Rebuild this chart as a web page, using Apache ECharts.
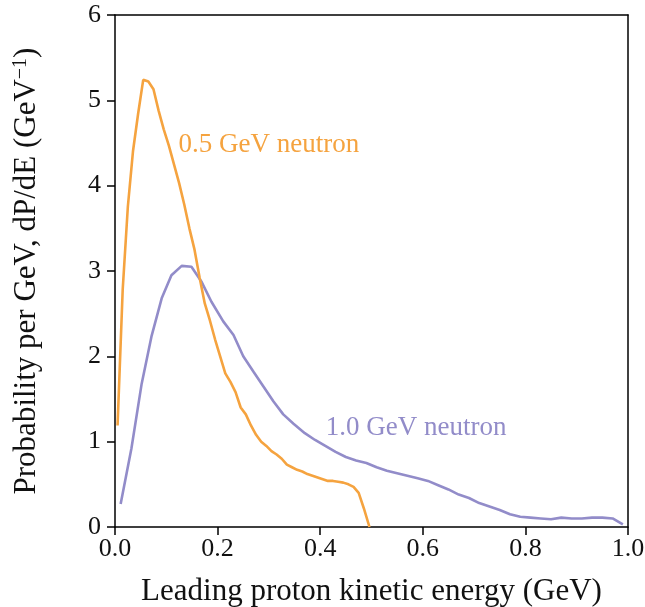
<!DOCTYPE html>
<html>
<head>
<meta charset="utf-8">
<script src="https://cdn.jsdelivr.net/npm/echarts@6/dist/echarts.min.js"></script>
<style>html,body{margin:0;padding:0;background:#fff}#c{width:645px;height:607px}</style>
</head>
<body>
<div id="c"></div>
<script>
const xTicks = [0, 0.2, 0.4, 0.6, 0.8, 1.0];
const yTicks = [0, 1, 2, 3, 4, 5, 6];

const energy05 = [0.005,0.015,0.025,0.035,0.045,0.055,0.065,0.075,0.085,0.095,0.105,0.115,0.125,0.135,0.145,0.155,0.165,0.175,0.185,0.195,0.205,0.215,0.225,0.235,0.245,0.255,0.265,0.275,0.285,0.295,0.305,0.315,0.325,0.335,0.345,0.355,0.365,0.375,0.385,0.395,0.405,0.415,0.425,0.435,0.445,0.455,0.465,0.475,0.485,0.496];
const prob05 = [1.19,2.78,3.75,4.40,4.84,5.24,5.22,5.13,4.88,4.66,4.47,4.25,4.03,3.78,3.50,3.25,2.92,2.62,2.42,2.20,2.00,1.80,1.70,1.58,1.40,1.32,1.19,1.08,1.00,0.95,0.89,0.85,0.80,0.73,0.70,0.67,0.65,0.62,0.60,0.58,0.56,0.54,0.54,0.53,0.52,0.50,0.47,0.40,0.22,0.0];

const energy10 = [0.011,0.032,0.052,0.071,0.091,0.110,0.130,0.149,0.169,0.188,0.211,0.231,0.250,0.270,0.289,0.309,0.328,0.348,0.370,0.390,0.410,0.430,0.450,0.470,0.490,0.510,0.530,0.550,0.570,0.590,0.610,0.630,0.650,0.670,0.690,0.710,0.730,0.750,0.770,0.790,0.810,0.830,0.850,0.870,0.890,0.910,0.930,0.950,0.970,0.990];
const prob10 = [0.27,0.92,1.68,2.23,2.68,2.95,3.06,3.05,2.87,2.64,2.41,2.25,2.00,1.82,1.65,1.47,1.32,1.21,1.10,1.02,0.95,0.88,0.82,0.78,0.75,0.70,0.66,0.63,0.60,0.57,0.54,0.49,0.44,0.38,0.34,0.28,0.24,0.20,0.15,0.12,0.11,0.10,0.09,0.11,0.10,0.10,0.11,0.11,0.10,0.03];

const seriesNames = ['0.5 GeV neutron', '1.0 GeV neutron'];
const labelPos = [[0.124, 4.48], [0.411, 1.16]];

const orange = '#f5a33f';
const purple = '#928cc9';
const FONT = 'Liberation Serif';

const chart = echarts.init(document.getElementById('c'), null, {renderer: 'canvas'});
const pairs = (xs, ys) => xs.map((x, i) => [x, ys[i]]);

function mp(pos, name, color) {
  return {
    silent: true,
    symbol: 'circle', symbolSize: 0,
    data: [{coord: pos, value: name}],
    label: {show: true, position: 'right', distance: 0, formatter: name,
      color: color, fontFamily: FONT, fontSize: 27}
  };
}

chart.setOption({
  animation: false,
  backgroundColor: '#fff',
  grid: {left: 115, right: 17, top: 15, bottom: 80, containLabel: false, outerBoundsMode: 'none'},
  xAxis: [{
    type: 'value', min: 0, max: 1, interval: 0.2,
    name: 'Leading proton kinetic energy (GeV)', nameLocation: 'middle', nameGap: 49,
    nameTextStyle: {fontFamily: FONT, fontSize: 31, color: '#111'},
    axisLine: {show: true, lineStyle: {color: '#000', width: 1.5}},
    axisTick: {show: true, length: 8, inside: false, lineStyle: {color: '#000', width: 1.5}},
    axisLabel: {fontFamily: FONT, fontSize: 26, color: '#111', margin: 9,
      formatter: v => xTicks.includes(+v.toFixed(1)) ? v.toFixed(1) : ''},
    splitLine: {show: false}
  }, {
    type: 'value', min: 0, max: 1, position: 'top',
    axisLine: {show: true, onZero: false, lineStyle: {color: '#000', width: 1.5}},
    axisTick: {show: false}, axisLabel: {show: false}, splitLine: {show: false}
  }],
  yAxis: [{
    type: 'value', min: 0, max: 6, interval: 1,
    name: '{a|Probability per GeV, dP/dE (GeV}{s|−1}{a|)}', nameLocation: 'middle', nameGap: 72,
    nameTextStyle: {fontFamily: FONT, fontSize: 31, color: '#111',
      rich: {a: {fontFamily: FONT, fontSize: 31, color: '#111'},
             s: {fontFamily: FONT, fontSize: 20, color: '#111', verticalAlign: 'top', padding: [0, 0, 12, 0]}}},
    axisLine: {show: true, lineStyle: {color: '#000', width: 1.5}},
    axisTick: {show: true, length: 8, lineStyle: {color: '#000', width: 1.5}},
    axisLabel: {fontFamily: FONT, fontSize: 26, color: '#111', margin: 14,
      formatter: v => yTicks.includes(v) ? String(v) : ''},
    splitLine: {show: false}
  }, {
    type: 'value', min: 0, max: 6, position: 'right',
    axisLine: {show: true, onZero: false, lineStyle: {color: '#000', width: 1.5}},
    axisTick: {show: false}, axisLabel: {show: false}, splitLine: {show: false}
  }],
  series: [{
    name: seriesNames[0], type: 'line', data: pairs(energy05, prob05),
    showSymbol: false, lineStyle: {color: orange, width: 2.6}, itemStyle: {color: orange},
    z: 3, markPoint: mp(labelPos[0], seriesNames[0], orange)
  }, {
    name: seriesNames[1], type: 'line', data: pairs(energy10, prob10),
    showSymbol: false, lineStyle: {color: purple, width: 2.6}, itemStyle: {color: purple},
    z: 2, markPoint: mp(labelPos[1], seriesNames[1], purple)
  }]
});
</script>
</body>
</html>
